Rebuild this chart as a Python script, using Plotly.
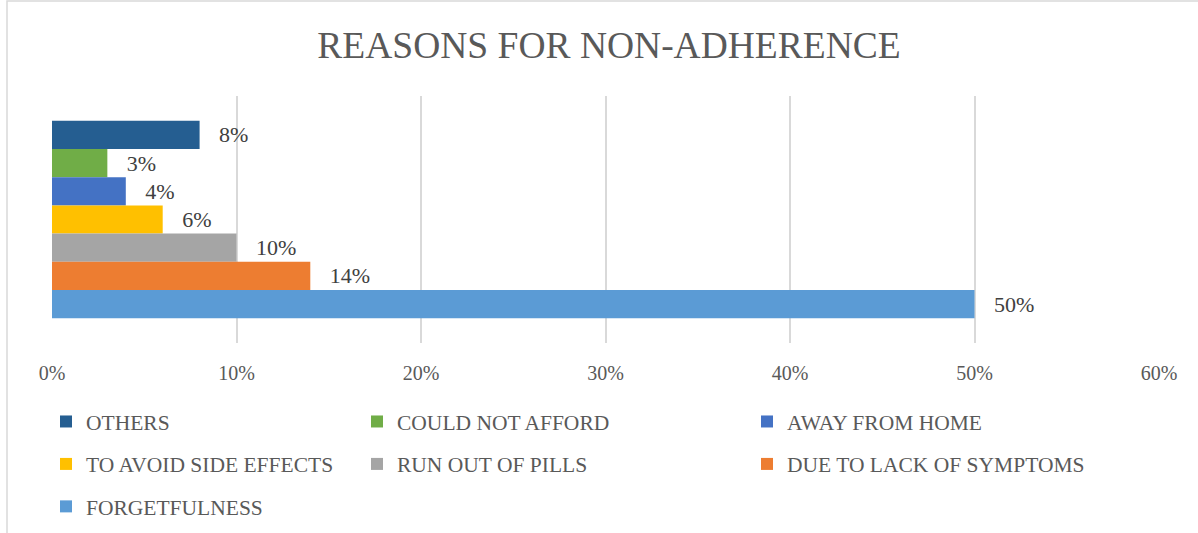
import plotly.graph_objects as go

categories = ["OTHERS", "COULD NOT AFFORD", "AWAY FROM HOME", "TO AVOID SIDE EFFECTS",
              "RUN OUT OF PILLS", "DUE TO LACK OF SYMPTOMS", "FORGETFULNESS"]
values = [8, 3, 4, 6, 10, 14, 50]
colors = ["#255E91", "#70AD47", "#4472C4", "#FFC000", "#A5A5A5", "#ED7D31", "#5B9BD5"]
legend_ids = ["legend", "legend2", "legend3", "legend", "legend2", "legend3", "legend"]
x_ticks = [0, 10, 20, 30, 40, 50, 60]
tick_labels = ["0%", "10%", "20%", "30%", "40%", "50%", "60%"]

FONT = "Liberation Serif, Times New Roman, serif"

fig = go.Figure()
for i, (name, v, c, lg) in enumerate(zip(categories, values, colors, legend_ids)):
    fig.add_trace(go.Bar(
        x=[v], y=["R"], orientation="h", name=name,
        marker=dict(color=c, line=dict(width=0)),
        text=[f"{v}%"], texttemplate="\u00a0\u00a0\u00a0%{text}",
        textposition="outside", constraintext="none", cliponaxis=False,
        textfont=dict(family=FONT, size=22, color="#404040"),
        legend=lg, legendgroup=name,
    ))

L, R, T, B = 52, 39, 96, 190
W, H = 1198, 533
pw, ph = W - L - R, H - T - B

def px_x(p):
    return (p - L) / pw

def px_y(p):
    return (H - B - p) / ph

leg_common = dict(orientation="v", xanchor="left", yanchor="top",
                  font=dict(family=FONT, size=21.5, color="#595959"),
                  bgcolor="rgba(0,0,0,0)", tracegroupgap=11.5, itemclick=False)

fig.update_layout(
    width=W, height=H,
    margin=dict(l=L, r=R, t=T, b=B, autoexpand=False),
    paper_bgcolor="white", plot_bgcolor="white",
    barmode="group", bargap=0.2,
    title=dict(text="REASONS FOR NON-ADHERENCE", x=(609) / W, xanchor="center",
               y=1 - 45 / H, yanchor="middle",
               font=dict(family=FONT, size=37.5, color="#595959")),
    xaxis=dict(range=[0, 60], tickvals=x_ticks, ticktext=tick_labels,
               showgrid=True, gridcolor="#D9D9D9", gridwidth=1.5,
               zeroline=False, showline=False, ticks="",
               ticklabelstandoff=16,
               tickfont=dict(family=FONT, size=20, color="#595959")),
    yaxis=dict(autorange="reversed", showticklabels=False, showgrid=False,
               zeroline=False, showline=False, ticks=""),
    legend=dict(x=px_x(86 - 40), y=px_y(401), **leg_common),
    legend2=dict(x=px_x(397 - 40), y=px_y(401), **leg_common),
    legend3=dict(x=px_x(787 - 40), y=px_y(401), **leg_common),
    showlegend=True,
    shapes=[dict(type="rect", xref="paper", yref="paper",
                 x0=px_x(7), x1=px_x(1210), y0=px_y(545), y1=px_y(1),
                 line=dict(color="#D9D9D9", width=1.5), fillcolor="rgba(0,0,0,0)",
                 layer="below")],
)

fig.write_html("out.html")
